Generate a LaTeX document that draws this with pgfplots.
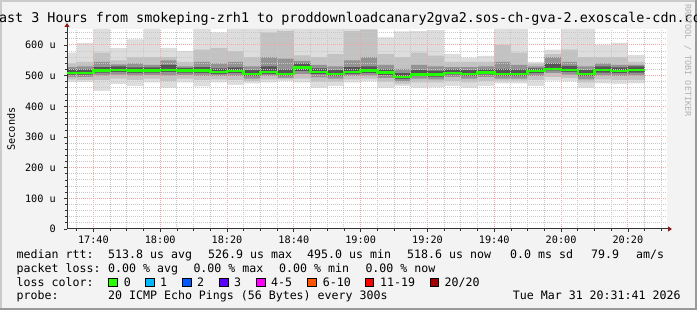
\documentclass[border=0pt]{standalone}
\usepackage{fontspec}
\setmainfont{DejaVu Sans Mono}
\usepackage{pgfplots}
\pgfplotsset{compat=1.18}
\usepackage{pgfplotstable}
\usetikzlibrary{arrows.meta}

\definecolor{bgc}{HTML}{F3F3F3}
\definecolor{shA}{HTML}{CBCBCB}
\definecolor{shB}{HTML}{999999}
\definecolor{sa}{HTML}{DDDDDD}
\definecolor{sb}{HTML}{C2C2C2}
\definecolor{sc}{HTML}{939393}
\definecolor{sd}{HTML}{555555}
\definecolor{medc}{HTML}{22FF00}
\definecolor{mgrid}{HTML}{F2A6A6}
\definecolor{ngrid}{HTML}{C8C8C8}
\definecolor{arr}{HTML}{8B1A1A}
\definecolor{l0}{HTML}{26FF00}
\definecolor{l1}{HTML}{00B8FF}
\definecolor{l2}{HTML}{0059FF}
\definecolor{l3}{HTML}{5E00FF}
\definecolor{l4}{HTML}{FF00FF}
\definecolor{l5}{HTML}{FF5500}
\definecolor{l6}{HTML}{FF0000}
\definecolor{l7}{HTML}{A00000}

\newcommand\lf{\fontsize{11.6}{14}\selectfont}
\newcommand\tf{\fontsize{10.2}{12}\selectfont}

\pgfplotstableread{
t   mn  lo1 lo2 lo3 md  hi3 hi2 hi1 mx
30  480 488 496 503 509 520 528 540 575
35  480 486 495 503 509 520 530 545 606
40  450 485 500 510 516 528 545 575 652
45  472 490 503 512 519 530 537 550 590
50  466 485 500 509 516 527 540 560 618
55  478 490 502 510 516 527 535 560 652
60  460 482 500 512 519 535 550 560 590
65  478 490 502 510 516 525 530 545 580
70  465 485 498 509 516 528 545 585 652
75  478 488 498 506 512 524 540 590 641
80  470 485 498 508 515 527 545 580 652
85  475 482 490 498 505 518 530 560 652
90  478 488 498 506 512 530 560 640 652
95  482 488 493 500 506 520 555 645 652
100 478 490 505 515 526 540 548 566 652
105 460 480 494 505 511 524 535 560 652
110 466 480 490 499 506 518 530 570 652
115 478 488 498 506 512 528 550 645 652
120 481 490 500 508 516 530 560 650 652
125 460 480 492 502 510 520 535 570 625
130 466 474 481 489 495 508 522 560 644
135 460 478 490 498 504 518 535 575 645
140 462 478 488 497 504 516 530 565 648
145 466 482 495 504 509 520 528 545 571
150 460 478 490 499 506 518 528 545 559
155 466 482 495 504 510 520 530 545 564
160 475 484 490 499 506 522 545 600 652
165 475 484 490 499 506 520 535 575 652
170 466 485 498 508 515 524 530 538 545
175 484 495 508 517 522 540 560 570 585
180 481 492 503 512 519 532 545 585 652
185 460 478 488 498 506 518 530 560 652
190 475 488 500 510 518 530 540 560 600
195 473 485 498 508 515 527 535 560 607
200 475 486 500 510 518 530 535 545 567
205 475 486 500 510 518 530 535 545 567
}\smoke

\begin{document}
\begin{tikzpicture}[x=1pt,y=1pt]
\fill[bgc] (0,0) rectangle (697,310);
\fill[shA] (0,0) rectangle (2,310);
\fill[shA] (0,308) rectangle (697,310);
\fill[shB] (695,0) rectangle (697,310);
\fill[shB] (0,0) rectangle (697,2);
\fill[white] (67,81) rectangle (667,281);

\begin{axis}[
  set layers=axis on top,
  clip mode=individual,
  at={(67pt,81pt)}, anchor=south west,
  scale only axis, width=600pt, height=200pt,
  xmin=32.1, xmax=211.7, ymin=0, ymax=652,
  axis on top,
  axis lines*=left,
  x axis line style={draw=black!80, line width=1pt, shorten >=-5pt, -{Triangle[length=4pt,width=5pt,color=arr]}},
  y axis line style={draw=black!80, line width=1pt, shorten >=-6pt, -{Triangle[length=4pt,width=5pt,color=arr]}},
  xtick={40,60,80,100,120,140,160,180,200},
  xticklabels={17:40,18:00,18:20,18:40,19:00,19:20,19:40,20:00,20:20},
  minor xtick={35,45,50,55,65,70,75,85,90,95,105,110,115,125,130,135,145,150,155,165,170,175,185,190,195,205,210},
  ytick={0,100,200,300,400,500,600},
  yticklabels={0\hspace{22pt},100 u,200 u,300 u,400 u,500 u,600 u},
  minor ytick={20,40,60,80,120,140,160,180,220,240,260,280,320,340,360,380,420,440,460,480,520,540,560,580,620,640},
  grid=both,
  major grid style={draw=mgrid, line width=1pt, dash pattern=on 1pt off 1pt},
  minor grid style={draw=ngrid, line width=1pt, dash pattern=on 1pt off 1pt},
  tick align=outside,
  major tick length=3pt, minor tick length=2pt,
  tick style={draw=black!80, line width=0.8pt},
  tick label style={font=\tf},
  xticklabel style={anchor=north, inner sep=0pt, yshift=-4pt},
  yticklabel style={anchor=east, inner sep=0pt, xshift=-8pt},
]
\addplot[fill=sa, draw=none, const plot] table[x=t,y=mx]{\smoke} \closedcycle;
\addplot[fill=sb, draw=none, const plot] table[x=t,y=hi1]{\smoke} \closedcycle;
\addplot[fill=sc, draw=none, const plot] table[x=t,y=hi2]{\smoke} \closedcycle;
\addplot[fill=sd, draw=none, const plot] table[x=t,y=hi3]{\smoke} \closedcycle;
\addplot[fill=sc, draw=none, const plot] table[x=t,y=lo3]{\smoke} \closedcycle;
\addplot[fill=sb, draw=none, const plot] table[x=t,y=lo2]{\smoke} \closedcycle;
\addplot[fill=sa, draw=none, const plot] table[x=t,y=lo1]{\smoke} \closedcycle;
\addplot[fill=white, draw=none, const plot] table[x=t,y=mn]{\smoke} \closedcycle;
\addplot[const plot, draw=medc, line width=2.5pt, on layer=axis foreground] table[x=t,y=md]{\smoke};
\end{axis}

% title
\node[anchor=base, inner sep=0, font=\fontsize{13.4}{15}\selectfont] at (350,287)
  {Last 3 Hours from smokeping-zrh1 to proddownloadcanary2gva2.sos-ch-gva-2.exoscale-cdn.com};
% y label
\node[rotate=90, anchor=base, inner sep=0, font=\tf] at (15,181) {Seconds};
% watermark
\node[rotate=-90, anchor=base west, inner sep=0, text=black!30, font=\fontsize{8.5}{10}\selectfont] at (685,306) {RRDTOOL / TOBI OETIKER};

\begin{scope}[every node/.style={anchor=base west, inner sep=0, font=\lf}]
\node at (16.5,51.5) {median rtt:};
\node at (108,51.5) {513.8 us avg};
\node at (208,51.5) {526.9 us max};
\node at (307,51.5) {495.0 us min};
\node at (407,51.5) {518.6 us now};
\node at (510,51.5) {0.0 ms sd};
\node at (591,51.5) {79.9};
\node at (636,51.5) {am/s};
\node at (16.5,37.5) {packet loss:};
\node at (108,37.5) {0.00 \% avg};
\node at (193.3,37.5) {0.00 \% max};
\node at (279,37.5) {0.00 \% min};
\node at (365.3,37.5) {0.00 \% now};
\node at (16.5,23.5) {loss color:};
\node at (123.6,23.5) {0};
\node at (160,23.5) {1};
\node at (197,23.5) {2};
\node at (233.8,23.5) {3};
\node at (271,23.5) {4-5};
\node at (322.7,23.5) {6-10};
\node at (380,23.5) {11-19};
\node at (444.4,23.5) {20/20};
\node at (16.5,10) {probe:};
\node at (108,10) {20 ICMP Echo Pings (56 Bytes) every 300s};
\node at (512.7,10) {Tue Mar 31 20:31:41 2026};
\end{scope}
\foreach \bx/\c in {108.4/l0,145.8/l1,182.7/l2,219.6/l3,256.4/l4,307.6/l5,365.3/l6,430.2/l7}{
  \filldraw[fill=\c, draw=black, line width=0.8pt] (\bx,23.3) rectangle ++(8.5,8.5);
}
\pgfresetboundingbox
\path[use as bounding box] (0,0) rectangle (697,310);
\end{tikzpicture}
\end{document}
